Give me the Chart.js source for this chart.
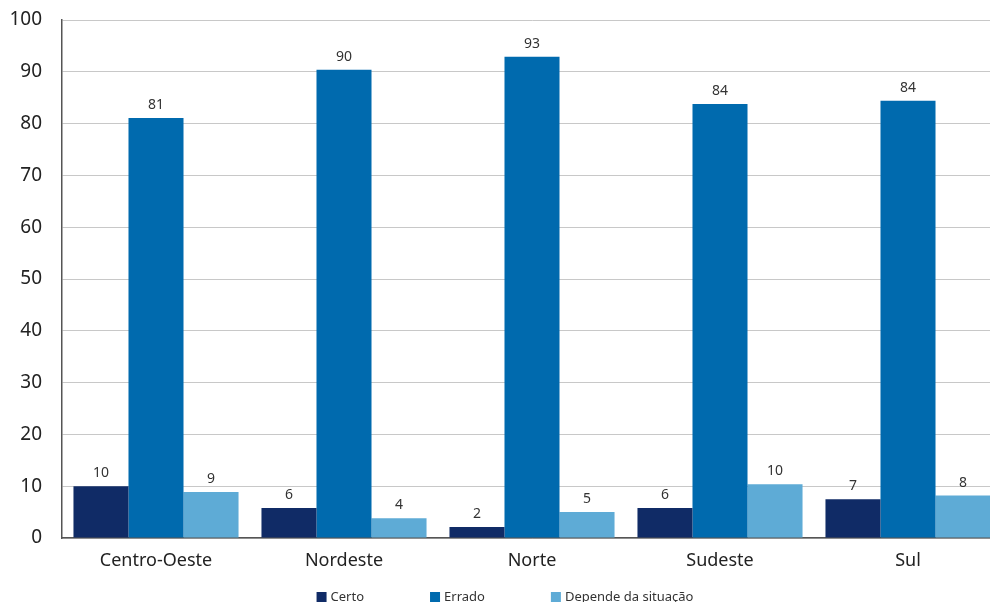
<!DOCTYPE html>
<html>
<head>
<meta charset="utf-8">
<script src="https://cdn.jsdelivr.net/npm/chart.js@4.4.0/dist/chart.umd.min.js"></script>
<style>
  html, body { margin: 0; padding: 0; background: #fff; overflow: hidden; }
  /* o gráfico original é cortado na borda direita */
  #wrap { width: 1002px; height: 602px; position: relative; }
</style>
</head>
<body>
<div id="wrap"><canvas id="myChart"></canvas></div>
<script>
var regioes = ['Centro-Oeste', 'Nordeste', 'Norte', 'Sudeste', 'Sul'];
var certo = [10.0, 5.8, 2.1, 5.8, 7.5];
var errado = [81.1, 90.4, 92.9, 83.8, 84.4];
var depende = [8.9, 3.8, 5.0, 10.4, 8.2];
var rotCerto = ['10', '6', '2', '6', '7'];
var rotErrado = ['81', '90', '93', '84', '84'];
var rotDepende = ['9', '4', '5', '10', '8'];
var yTicks = [0, 10, 20, 30, 40, 50, 60, 70, 80, 90, 100];

var fonte = "'Noto Sans', 'DejaVu Sans', sans-serif";

/* valores em cima das barras */
var rotulos = {
    id: 'rotulos',
    afterDatasetsDraw: function(chart) {
        var ctx = chart.ctx;
        ctx.save();
        ctx.font = '14px ' + fonte;
        ctx.fillStyle = '#333';
        ctx.textAlign = 'center';
        ctx.textBaseline = 'bottom';
        chart.data.datasets.forEach(function(ds, i) {
            chart.getDatasetMeta(i).data.forEach(function(bar, j) {
                ctx.fillText(ds.rotulos[j], bar.x, bar.y - 6);
            });
        });
        ctx.restore();
    }
};

/* legenda embaixo, espaçada como no original */
var legenda = {
    id: 'legenda',
    afterDraw: function(chart) {
        var ctx = chart.ctx;
        var gap = 66, box = 10;
        ctx.save();
        ctx.font = '13px ' + fonte;
        var larguras = chart.data.datasets.map(function(ds) {
            return box + 4 + ctx.measureText(ds.label).width;
        });
        var total = larguras.reduce(function(a, b) { return a + b; }, 0) + gap * (larguras.length - 1);
        var x = 505 - total / 2;
        var y = 597;
        ctx.textBaseline = 'middle';
        chart.data.datasets.forEach(function(ds, i) {
            ctx.fillStyle = ds.backgroundColor;
            ctx.fillRect(x, y - box / 2, box, box);
            ctx.fillStyle = '#333';
            ctx.fillText(ds.label, x + box + 4, y);
            x += larguras[i] + gap;
        });
        ctx.restore();
    }
};

var ctx = document.getElementById('myChart').getContext('2d');
var myChart = new Chart(ctx, {
    type: 'bar',
    data: {
        labels: regioes,
        datasets: [
            { label: 'Certo', data: certo, rotulos: rotCerto, backgroundColor: '#102b66' },
            { label: 'Errado', data: errado, rotulos: rotErrado, backgroundColor: '#006aae' },
            { label: 'Depende da situação', data: depende, rotulos: rotDepende, backgroundColor: '#5eabd6' }
        ]
    },
    options: {
        responsive: true,
        maintainAspectRatio: false,
        animation: false,
        layout: { padding: { left: 8, right: 0, top: 20, bottom: 32 } },
        datasets: { bar: { barPercentage: 1.0, categoryPercentage: 0.878 } },
        plugins: {
            legend: { display: false },
            tooltip: { enabled: false }
        },
        scales: {
            x: {
                afterFit: function(scale) {
                    scale.paddingLeft = 0; scale.paddingRight = 0;
                    scale.height = 32;
                },
                grid: { display: false, drawTicks: false },
                border: { display: true, color: '#555', width: 1.5 },
                ticks: { color: '#222', padding: 12, font: { family: fonte, size: 18 } }
            },
            y: {
                min: 0,
                max: 100,
                afterBuildTicks: function(scale) {
                    scale.ticks = yTicks.map(function(v) { return { value: v }; });
                },
                afterFit: function(scale) {
                    scale.paddingTop = 0; scale.paddingBottom = 0;
                    scale.width = 54;
                },
                grid: { color: '#c8c8c8', lineWidth: 1, drawTicks: false },
                border: { display: true, color: '#555', width: 1.5 },
                ticks: { color: '#222', padding: 20, font: { family: fonte, size: 19 } }
            }
        }
    },
    plugins: [rotulos, legenda]
});
</script>
</body>
</html>
